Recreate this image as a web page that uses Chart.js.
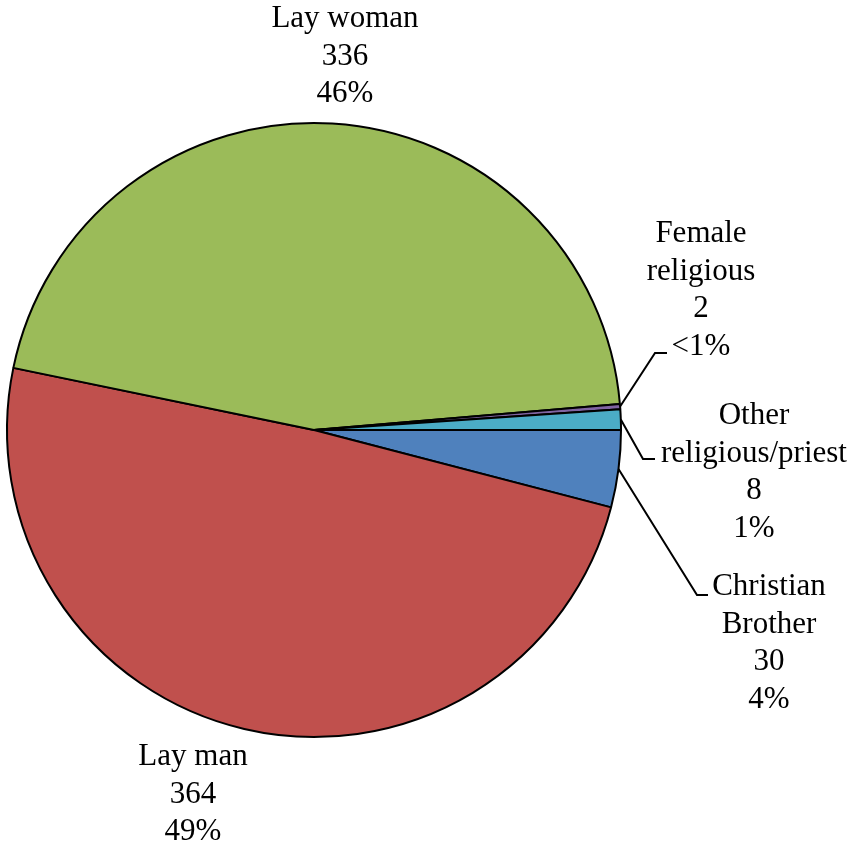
<!DOCTYPE html>
<html>
<head>
<meta charset="utf-8">
<script src="https://cdn.jsdelivr.net/npm/chart.js@4"></script>
<style>
  html, body { margin: 0; padding: 0; background: #fff; }
  #wrap { width: 853px; height: 846px; }
</style>
</head>
<body>
<div id="wrap"><canvas id="myChart" width="853" height="846"></canvas></div>
<script>
// slice order: clockwise from 3 o'clock
const categories = ['Christian Brother', 'Lay man', 'Lay woman', 'Female religious', 'Other religious/priest'];
const counts = [30, 364, 336, 2, 8];
const percentLabels = ['4%', '49%', '46%', '<1%', '1%'];
const sliceColors = ['#4F81BD', '#C0504D', '#9BBB59', '#8064A2', '#4BACC6'];

// label layout (text lines, centre x, first baseline, optional leader bend)
const labelLines = [
    ['Christian', 'Brother'],
    ['Lay man'],
    ['Lay woman'],
    ['Female', 'religious'],
    ['Other', 'religious/priest']
];
const labelLayout = [
    { x: 769, y: 595, leader: [[697, 595], [708, 595]] },
    { x: 193, y: 765 },
    { x: 345, y: 27 },
    { x: 701, y: 242, leader: [[655, 353], [667, 353]] },
    { x: 754, y: 424, leader: [[643, 459], [655, 459]] }
];
const lineGap = 37.5;

const pieLabels = {
    id: 'pieLabels',
    afterDatasetsDraw(chart) {
        const ctx = chart.ctx;
        const meta = chart.getDatasetMeta(0);
        ctx.save();
        ctx.font = '31px "Liberation Serif", "Times New Roman", serif';
        ctx.fillStyle = '#000';
        ctx.textAlign = 'center';
        ctx.textBaseline = 'alphabetic';
        meta.data.forEach((arc, i) => {
            const p = arc.getProps(['x', 'y', 'startAngle', 'endAngle', 'outerRadius'], true);
            const lay = labelLayout[i];
            if (lay.leader) {
                const mid = (p.startAngle + p.endAngle) / 2;
                ctx.beginPath();
                ctx.strokeStyle = '#000';
                ctx.lineWidth = 2;
                ctx.moveTo(p.x + Math.cos(mid) * p.outerRadius, p.y + Math.sin(mid) * p.outerRadius);
                lay.leader.forEach(pt => ctx.lineTo(pt[0], pt[1]));
                ctx.stroke();
            }
            const lines = labelLines[i].concat([String(counts[i]), percentLabels[i]]);
            lines.forEach((t, k) => ctx.fillText(t, lay.x, lay.y + k * lineGap));
        });
        ctx.restore();
    }
};

new Chart(document.getElementById('myChart'), {
    type: 'pie',
    data: {
        labels: categories,
        datasets: [{
            data: counts,
            backgroundColor: sliceColors,
            borderColor: '#000',
            borderWidth: 2
        }]
    },
    options: {
        responsive: false,
        animation: false,
        rotation: 90,
        layout: { padding: { left: 6, right: 231, top: 122, bottom: 108 } },
        plugins: {
            legend: { display: false },
            tooltip: { enabled: false }
        }
    },
    plugins: [pieLabels]
});
</script>
</body>
</html>
